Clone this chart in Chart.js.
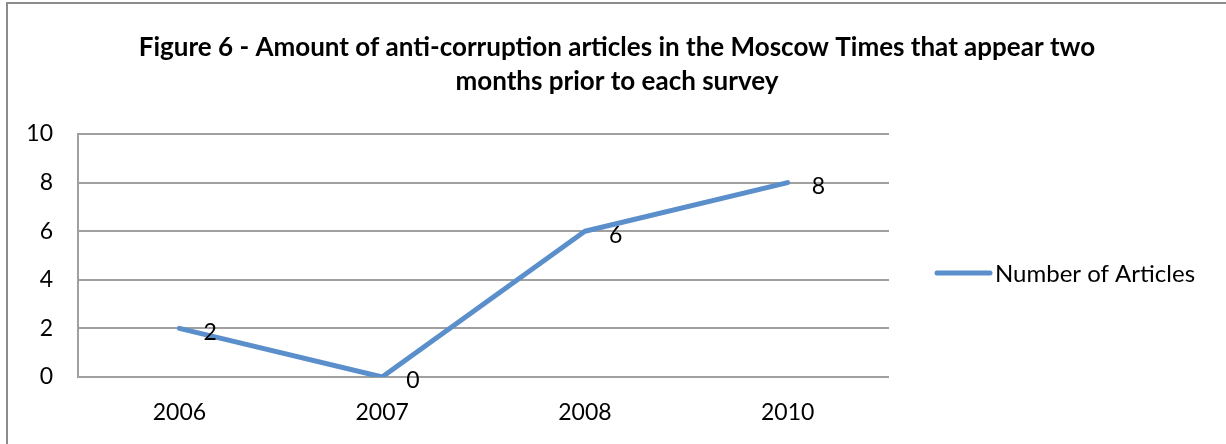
<!DOCTYPE html>
<html>
<head>
<meta charset="utf-8">
<script src="https://cdn.jsdelivr.net/npm/chart.js@4.4.0/dist/chart.umd.min.js"></script>
<style>
    html, body { margin: 0; padding: 0; background: #fff; }
    #wrap { position: relative; width: 1226px; height: 444px; }
    #frame {
        position: absolute; left: 6px; top: 2px; right: -10px; bottom: -10px;
        border-left: 2px solid #8c8c8c; border-top: 2px solid #8c8c8c;
        pointer-events: none;
    }
</style>
</head>
<body>
<div id="wrap">
    <canvas id="chart" width="1226" height="444"></canvas>
    <div id="frame"></div>
</div>
<script>
// Chart data
const years = ['2006', '2007', '2008', '2010'];
const articleCounts = [2, 0, 6, 8];
const seriesName = 'Number of Articles';
const titleLines = [
    'Figure 6 - Amount of anti-corruption articles in the Moscow Times that appear two',
    'months prior to each survey'
];

const FONT = 'Lato, Carlito, Calibri, sans-serif';
const lineColor = '#5b8fcb';
const gridColor = '#a0a0a0';

// Title centred over the whole figure (not just the plot)
const figureTitle = {
    id: 'figureTitle',
    afterDraw(chart) {
        const ctx = chart.ctx;
        ctx.save();
        ctx.font = 'bold 26px ' + FONT;
        ctx.fillStyle = '#000';
        ctx.textAlign = 'center';
        ctx.textBaseline = 'middle';
        titleLines.forEach((t, i) => ctx.fillText(t, 617, 48 + i * 34));
        ctx.restore();
    }
};

// Value labels right of each point
const pointLabels = {
    id: 'pointLabels',
    afterDatasetsDraw(chart) {
        const ctx = chart.ctx;
        const meta = chart.getDatasetMeta(0);
        ctx.save();
        ctx.font = '23px ' + FONT;
        ctx.fillStyle = '#000';
        ctx.textAlign = 'left';
        ctx.textBaseline = 'middle';
        meta.data.forEach((pt, i) => {
            ctx.fillText(String(chart.data.datasets[0].data[i]), pt.x + 24, pt.y + 4);
        });
        ctx.restore();
    }
};

// Legend on the right, drawn next to the plot
const sideLegend = {
    id: 'sideLegend',
    afterDraw(chart) {
        const ctx = chart.ctx;
        const area = chart.chartArea;
        const ds = chart.data.datasets[0];
        const x = area.right + 48;
        const y = area.top + 139;
        ctx.save();
        ctx.strokeStyle = ds.borderColor;
        ctx.lineWidth = 5;
        ctx.lineCap = 'round';
        ctx.beginPath();
        ctx.moveTo(x, y);
        ctx.lineTo(x + 53, y);
        ctx.stroke();
        ctx.font = '24px ' + FONT;
        ctx.fillStyle = '#000';
        ctx.textBaseline = 'middle';
        ctx.fillText(ds.label, x + 58, y + 1);
        ctx.restore();
    }
};

const ctx = document.getElementById('chart').getContext('2d');
new Chart(ctx, {
    type: 'line',
    data: {
        labels: years,
        datasets: [{
            label: seriesName,
            data: articleCounts,
            borderColor: lineColor,
            backgroundColor: lineColor,
            borderWidth: 5,
            pointRadius: 0,
            tension: 0,
            borderCapStyle: 'round',
            borderJoinStyle: 'round'
        }]
    },
    options: {
        responsive: false,
        animation: false,
        layout: {
            padding: { left: 0, right: 337, top: 134, bottom: 19 }
        },
        plugins: {
            legend: { display: false },
            tooltip: { enabled: false },
            title: { display: false }
        },
        scales: {
            x: {
                offset: true,
                afterFit(scale) { scale.height = 48; },
                grid: { display: false, drawTicks: false },
                border: { display: false },
                ticks: {
                    color: '#000',
                    padding: 22,
                    font: { family: FONT, size: 23 }
                }
            },
            y: {
                min: 0,
                max: 10,
                afterFit(scale) { scale.width = 78; },
                grid: { color: gridColor, lineWidth: 2, drawTicks: false },
                border: { display: true, color: gridColor, width: 2 },
                ticks: {
                    stepSize: 2,
                    color: '#000',
                    padding: 25,
                    font: { family: FONT, size: 23 }
                }
            }
        }
    },
    plugins: [figureTitle, pointLabels, sideLegend]
});
</script>
</body>
</html>
